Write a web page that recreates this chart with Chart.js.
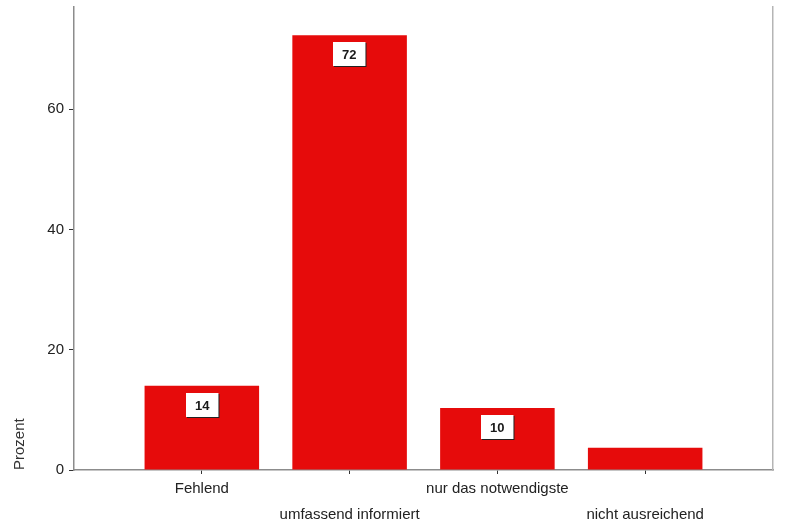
<!DOCTYPE html>
<html>
<head>
<meta charset="utf-8">
<script src="https://cdn.jsdelivr.net/npm/chart.js@4"></script>
<style>
  html, body { margin: 0; padding: 0; background: #fff; }
  #wrap { width: 793px; height: 531px; }
</style>
</head>
<body>
<div id="wrap"><canvas id="chart" width="793" height="531"></canvas></div>
<script>
// categories and values
const categories = ["Fehlend", "umfassend informiert", "nur das notwendigste", "nicht ausreichend"];
const percents = [14.0, 72.3, 10.3, 3.7];
const valueLabels = ["14", "72", "10", ""];
const yTicks = [0, 20, 40, 60];
const yMax = 77;

const barRed = "#e60b0b";
const axisGray = "#8c8c8c";

// white boxes with the rounded value, just under the bar top
const valueBoxes = {
  id: "valueBoxes",
  afterDatasetsDraw(chart) {
    const ctx = chart.ctx;
    const meta = chart.getDatasetMeta(0);
    ctx.save();
    ctx.font = "bold 13px Arial, 'Liberation Sans', sans-serif";
    ctx.textAlign = "center";
    ctx.textBaseline = "middle";
    meta.data.forEach((bar, i) => {
      const txt = valueLabels[i];
      if (!txt) return;
      const w = ctx.measureText(txt).width + 18;
      const h = 24;
      const x = Math.round(bar.x - w / 2);
      const y = Math.round(bar.y + 7);
      ctx.fillStyle = "#222";
      ctx.fillRect(x + 1, y + 1, w, h);
      ctx.fillStyle = "#fff";
      ctx.fillRect(x, y, w, h);
      ctx.fillStyle = "#1a1a1a";
      ctx.fillText(txt, x + w / 2, y + h / 2 + 1);
    });
    ctx.restore();
  }
};

const tickFont = { family: "Arial, 'Liberation Sans', sans-serif", size: 15 };

function noVertPad(s) {
  s.paddingTop = 0;
  s.paddingBottom = 0;
}

new Chart(document.getElementById("chart"), {
  type: "bar",
  data: {
    datasets: [{
      data: categories.map((c, i) => ({ x: i + 1, y: percents[i] })),
      backgroundColor: barRed,
      borderWidth: 0,
      barPercentage: 1,
      categoryPercentage: 0.775
    }]
  },
  options: {
    responsive: false,
    animation: false,
    layout: { padding: { top: 7, right: 20, left: 0, bottom: 0 } },
    plugins: { legend: { display: false }, tooltip: { enabled: false } },
    scales: {
      x: {
        type: "linear",
        offset: false,
        min: 0.135,
        max: 4.865,
        grid: { offset: false, drawOnChartArea: false, drawTicks: true, tickLength: 4, color: "#333" },
        border: { color: axisGray, width: 1.5 },
        afterBuildTicks: s => { s.ticks = categories.map((c, i) => ({ value: i + 1 })); },
        ticks: {
          autoSkip: false,
          maxRotation: 0,
          padding: 2,
          color: "#222",
          font: Object.assign({ lineHeight: 1.73 }, tickFont),
          callback: (v) => {
            const i = Math.round(v) - 1;
            return i % 2 === 0 ? categories[i] : ["", categories[i]];
          }
        },
        afterFit: s => { s.height = 61; s.paddingLeft = 0; s.paddingRight = 0; }
      },
      y: {
        min: 0,
        max: yMax,
        afterBuildTicks: s => { s.ticks = yTicks.map(v => ({ value: v })); },
        grid: { drawOnChartArea: false, drawTicks: true, tickLength: 5, color: "#333" },
        border: { color: axisGray, width: 1.5 },
        ticks: { color: "#222", font: tickFont, padding: 5 },
        title: {
          display: true,
          text: "Prozent",
          align: "start",
          color: "#333",
          font: tickFont,
          padding: { top: 11, bottom: 0 }
        },
        afterFit: s => { s.width = 74; noVertPad(s); }
      },
      yRight: {
        position: "right",
        min: 0,
        max: yMax,
        grid: { display: false },
        ticks: { display: false },
        border: { color: "#b5b5b5", width: 1.5 },
        afterFit: s => { s.width = 0; noVertPad(s); }
      }
    }
  },
  plugins: [valueBoxes]
});
</script>
</body>
</html>
